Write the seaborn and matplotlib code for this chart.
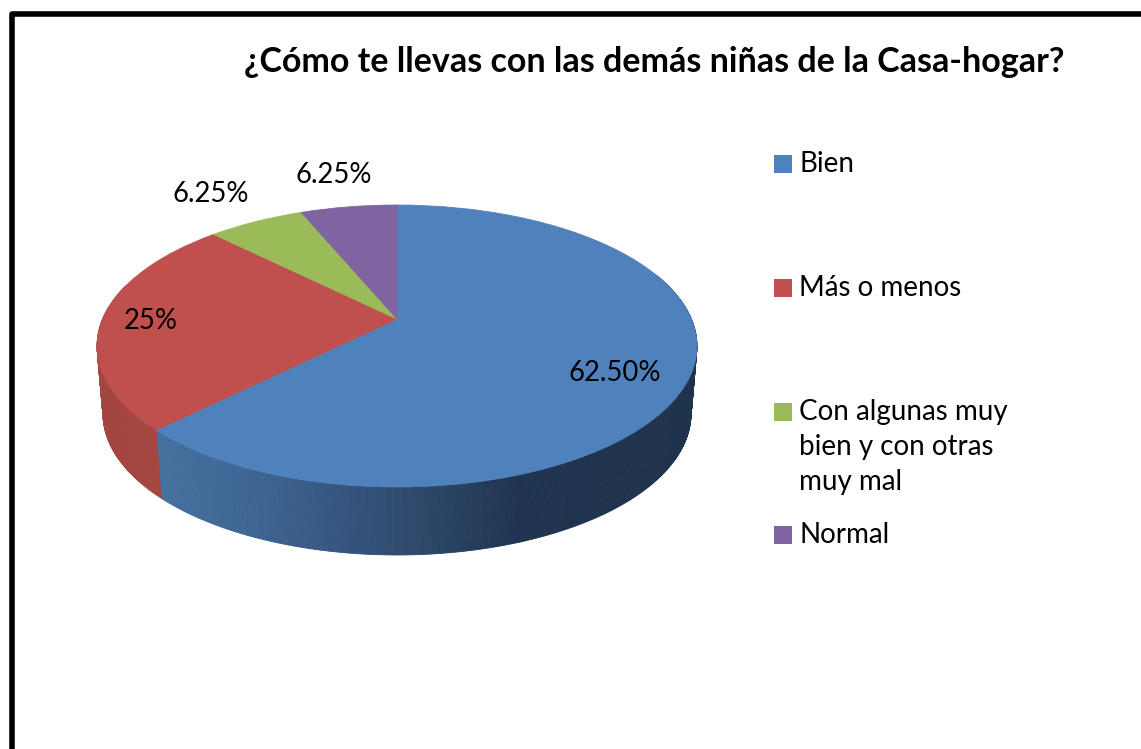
import numpy as np
import matplotlib
matplotlib.use("Agg")
import matplotlib.pyplot as plt
from matplotlib.path import Path
import seaborn as sns

# datos
categorias = ["Bien", "Más o menos", "Con algunas muy\nbien y con otras\nmuy mal", "Normal"]
valores = [62.5, 25, 6.25, 6.25]
etiquetas = ["62.50%", "25%", "6.25%", "6.25%"]
titulo = "¿Cómo te llevas con las demás niñas de la Casa-hogar?"

colores = ["#4f81bd", "#c0504d", "#9bbb59", "#8064a2"]
color_rojo_lado = "#a5453f"
grad_azul = ["#44709f", "#3e6593", "#35557f", "#2c4666", "#1f3450", "#1f334d", "#1f334d"]

sns.set_theme(style="white")
plt.rcParams["font.family"] = ["Lato", "DejaVu Sans"]

# en pixeles de la imagen
CX, CY = 397, 319
A, B, K = 135.8, 294.4, 0.1915
ALTO = 68


def perspectiva(u, v):
    d = 1 + K * v
    return CX + B * u / d, CY - A * v / d


fig, ax = plt.subplots(figsize=(11.41, 7.49), dpi=100)
fig.subplots_adjust(0, 0, 1, 1)

# tapa de la tarta
wedges, _ = ax.pie(valores, colors=colores, startangle=90, counterclock=False, radius=1)
for w, col in zip(wedges, colores):
    p = w.get_path()
    x, y = perspectiva(p.vertices[:, 0], p.vertices[:, 1])
    w._path = Path(np.column_stack([x, y]), p.codes)
    w.set_edgecolor(col)
    w.set_linewidth(0.6)
    w.set_zorder(3)

ax.set_aspect("auto")
ax.set_xlim(0, 1141)
ax.set_ylim(749, 0)
ax.axis("off")

# lado de la tarta, tiras finas desde el angulo de cada porcion
limites = np.cumsum([0] + valores) / 100 * 360
paleta = sns.blend_palette(grad_azul, 200)
for i in range(2):
    ini, fin = limites[i], limites[i + 1]
    angs = np.arange(max(ini, 70), min(fin, 285) + 0.5, 0.5)
    for a0, a1 in zip(angs[:-1], angs[1:]):
        t = np.radians([a0, a1])
        xs, ys = perspectiva(np.sin(t), np.cos(t))
        xb = CX + 0.98 * (xs - CX)
        if i == 0:
            f = np.clip((xs.mean() - 160) / 537, 0, 1)
            c = paleta[int(f * 199)]
        else:
            c = color_rojo_lado
        ax.fill([xs[0], xs[1], xb[1], xb[0]],
                [ys[0], ys[1], ys[1] + ALTO, ys[0] + ALTO],
                color=c, lw=0.6, zorder=2)

# etiquetas de porcentaje
pos_etiq = [(615, 373), (151, 321), (211, 194), (334, 175)]
for (x, y), txt in zip(pos_etiq, etiquetas):
    ax.text(x, y, txt, fontsize=19.8, color="black", ha="center", va="center", zorder=5)

# titulo
ax.text(654, 62, titulo, fontsize=24.5, fontweight="bold", color="black", ha="center", va="center")

# leyenda
pos_ley = [163, 287, 411, 534]
for y, cat, col in zip(pos_ley, categorias, colores):
    ax.scatter([782.5], [y + 1], marker="s", s=150, color=col, linewidths=0, zorder=4)
    ax.text(799, y - 12, cat, fontsize=20, color="black", ha="left", va="top", linespacing=1.42)

# marco: solo arriba y a la izquierda
ax.plot([12, 12, 1141], [749, 13.5, 13.5], color="black", lw=4, solid_joinstyle="round", clip_on=False)

fig.savefig("out.png", dpi=100)
